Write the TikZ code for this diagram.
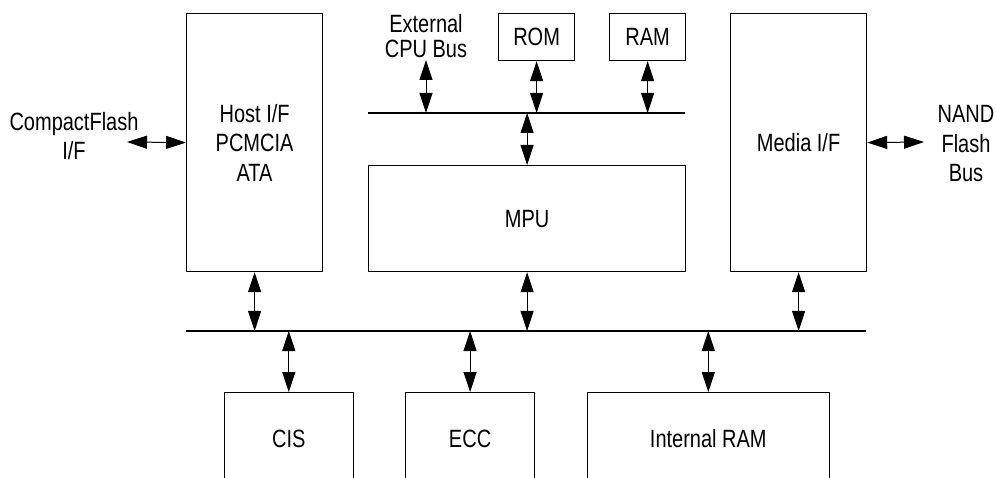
\documentclass[tikz,border=0pt]{standalone}
\usepackage{fontspec}
\setmainfont{Liberation Sans}[FakeStretch=0.8]
\usetikzlibrary{arrows.meta}
\begin{document}
\begin{tikzpicture}[x=1pt,y=-1pt,
  every node/.style={font=\fontsize{25pt}{29.5pt}\selectfont, align=center, inner sep=0pt},
  box/.style={draw, line width=1.2pt, anchor=north west},
  bus/.style={line width=1.2pt},
  dar/.style={line width=1pt, {Triangle[length=20pt,width=13pt]}-{Triangle[length=20pt,width=13pt]}}]
\useasboundingbox (0,0) rectangle (996,478);
\clip (0,0) rectangle (996,478);
% blocks
\node[box, minimum width=136pt, minimum height=258pt] (host) at (186,13) {Host I/F\\PCMCIA\\ATA};
\node[box, minimum width=76pt, minimum height=47pt] (rom) at (498,13) {ROM};
\node[box, minimum width=76pt, minimum height=47pt] (ram) at (609,13) {RAM};
\node[box, minimum width=317pt, minimum height=106pt] (mpu) at (368,165) {MPU};
\node[box, minimum width=136pt, minimum height=258pt] (media) at (730,13) {Media I/F};
\node[box, minimum width=129pt, minimum height=92pt] (cis) at (223.7,392) {CIS};
\node[box, minimum width=129pt, minimum height=92pt] (ecc) at (405,392) {ECC};
\node[box, minimum width=242pt, minimum height=92pt] (iram) at (586.7,392) {Internal RAM};
% labels
\node (cf) at (74,136) {CompactFlash\\I/F};
\node (nand) at (966,144) {NAND\\Flash\\Bus};
\node[font=\fontsize{25pt}{24.5pt}\selectfont] (ext) at (426,36) {External\\CPU Bus};
% buses
\coordinate (ubl) at (368,113);
\coordinate (ubr) at (685,113);
\coordinate (lbl) at (186,331);
\coordinate (lbr) at (866,331);
\draw[bus] (ubl) -- (ubr);
\draw[bus] (lbl) -- (lbr);
% free ends
\coordinate (extend) at (426,60);
\coordinate (cfend) at (127,142);
\coordinate (nandend) at (924,142);
% connectors
\draw[dar] (extend) -- (extend |- ubl);
\draw[dar] (rom.south) -- (rom.south |- ubl);
\draw[dar] (ram.south) -- (ram.south |- ubl);
\draw[dar] (ubl -| mpu.north) -- (mpu.north);
\draw[dar] (cfend) -- (host.west);
\draw[dar] (media.east) -- (nandend);
\draw[dar] (host.south) -- (host.south |- lbl);
\draw[dar] (mpu.south) -- (mpu.south |- lbl);
\draw[dar] (media.south) -- (media.south |- lbl);
\draw[dar] (lbl -| cis.north) -- (cis.north);
\draw[dar] (lbl -| ecc.north) -- (ecc.north);
\draw[dar] (lbl -| iram.north) -- (iram.north);
\end{tikzpicture}
\end{document}
